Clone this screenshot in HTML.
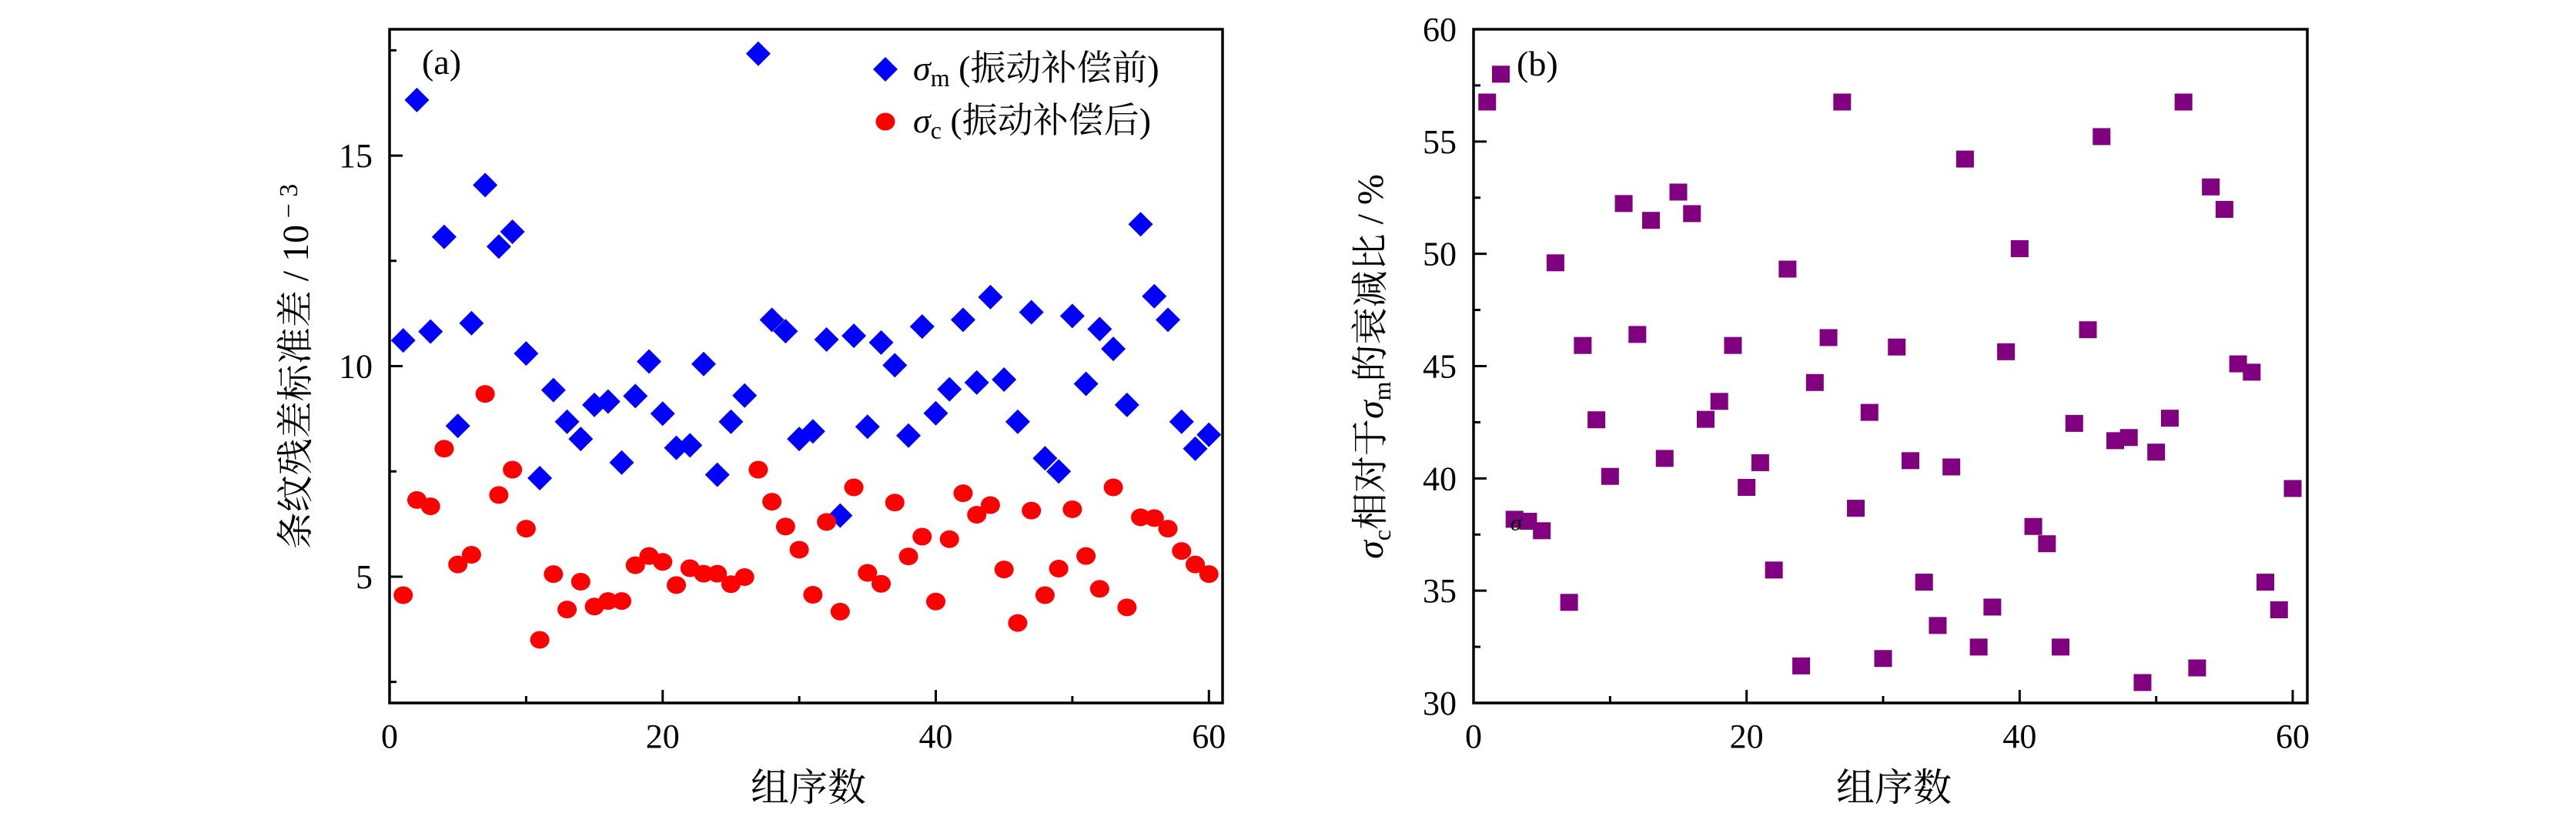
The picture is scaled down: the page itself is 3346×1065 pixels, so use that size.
<!DOCTYPE html>
<html><head><meta charset="utf-8"><style>
html,body{margin:0;padding:0;background:#fff;}
svg{display:block;}
text{font-family:"Liberation Serif","Noto Serif CJK SC","Noto Sans CJK SC",serif;fill:#000;}
</style></head><body>
<svg id="chart" width="3346" height="1065" viewBox="0 0 3346 1065" xmlns="http://www.w3.org/2000/svg">
<g id="pa"></g>
<g id="pb"></g>
</svg>
<script>
const groupIdx = Array.from({length:60},(_,i)=>i+1);
const sigmaM = [10.61,16.32,10.82,13.07,8.58,11.02,14.30,12.84,13.19,10.30,7.34,9.43,8.68,8.27,9.08,9.16,7.71,9.29,10.11,8.87,8.06,8.12,10.05,7.42,8.68,9.30,17.42,11.10,10.83,8.27,8.45,10.63,6.45,10.72,8.56,10.56,10.02,8.35,10.94,8.88,9.45,11.10,9.61,11.64,9.68,8.68,11.28,7.81,7.50,11.19,9.58,10.88,10.41,9.08,13.37,11.66,11.10,8.68,8.04,8.37];
const sigmaC = [4.56,6.82,6.67,8.04,5.29,5.52,9.34,6.94,7.54,6.14,3.50,5.06,4.22,4.88,4.29,4.42,4.42,5.27,5.49,5.35,4.80,5.20,5.07,5.07,4.82,4.99,7.54,6.78,6.19,5.64,4.57,6.30,4.17,7.12,5.09,4.83,6.76,5.48,5.95,4.41,5.89,6.98,6.47,6.70,5.17,3.90,6.57,4.56,5.19,6.60,5.49,4.71,7.12,4.27,6.41,6.39,6.14,5.61,5.29,5.06];
const ratio = [56.76,58.0,38.18,38.09,37.67,49.60,34.48,45.92,42.61,40.09,52.24,46.41,51.49,40.89,52.75,51.79,42.63,43.43,45.92,39.6,40.7,35.92,49.32,31.65,44.27,46.27,56.76,38.67,42.94,31.98,45.85,40.79,35.38,33.45,40.51,54.22,32.49,34.27,45.64,50.23,37.86,37.09,32.49,42.45,46.62,55.22,41.68,41.82,30.91,41.17,42.68,56.76,31.56,52.98,51.98,45.10,44.73,35.38,34.15,39.55];
const xTicks = [0,20,40,60];
const xMinor = [10,30,50];
const yTicksA = [5,10,15];
const yMinorA = [2.5,7.5,12.5,17.5];
const yTicksB = [30,35,40,45,50,55,60];
const yMinorB = [32.5,37.5,42.5,47.5,52.5,57.5];

const NS="http://www.w3.org/2000/svg";
function mk(parent,tag,attrs,txt){const e=document.createElementNS(NS,tag);for(const k in attrs)e.setAttribute(k,attrs[k]);if(txt!==undefined)e.textContent=txt;parent.appendChild(e);return e;}
function scale(d0,d1,r0,r1){return v=>r0+(v-d0)/(d1-d0)*(r1-r0);}

// Panel A
const A={L:506,R:1588,T:38,B:913};
const xa=scale(0,61,A.L,A.R), ya=scale(2,18,A.B,A.T);
const pa=document.getElementById('pa');
for(let i=0;i<groupIdx.length;i++){
  const cx=xa(groupIdx[i]), cy=ya(sigmaM[i]), r=16;
  const p=mk(pa,'polygon',{points:`${cx},${cy-r} ${cx+r},${cy} ${cx},${cy+r} ${cx-r},${cy}`,fill:'#0000ff'});
  
  
}
for(let i=0;i<groupIdx.length;i++){
  const c=mk(pa,'ellipse',{cx:xa(groupIdx[i]),cy:ya(sigmaC[i]),rx:12.5,ry:11.5,fill:'#ff0000'});
  
  
}
drawAxes(pa,A,xa,ya,yTicksA,yMinorA);
const lg=mk(pa,'g',{});


mk(lg,'polygon',{points:'1150,74 1166,90 1150,106 1134,90',fill:'#0000ff'});
mk(lg,'ellipse',{cx:1150,cy:158,rx:12.5,ry:11.5,fill:'#ff0000'});
const t1=mk(lg,'text',{x:1186,y:104,'font-size':46});
t1.innerHTML='<tspan font-style="italic">σ</tspan><tspan font-size="32" dy="8">m</tspan><tspan dy="-8"> (振动补偿前)</tspan>';
const t2=mk(lg,'text',{x:1186,y:172,'font-size':46});
t2.innerHTML='<tspan font-style="italic">σ</tspan><tspan font-size="32" dy="8">c</tspan><tspan dy="-8"> (振动补偿后)</tspan>';
const la=mk(pa,'text',{x:548,y:96,'font-size':46},'(a)');


const xta=mk(pa,'text',{x:1050,y:1040,'font-size':50,'text-anchor':'middle'},'组序数');


const yta=mk(pa,'text',{x:0,y:0,'font-size':48,'text-anchor':'middle',transform:'translate(400,476) rotate(-90)'});
yta.innerHTML='条纹残差标准差 / 10<tspan font-size="34" dy="-14"> − 3</tspan>';



// Panel B
const B={L:1914,R:2997,T:38,B:913};
const xb=scale(0,61.07,B.L,B.R), yb=scale(30,60,B.B,B.T);
const pb=document.getElementById('pb');
for(let i=0;i<groupIdx.length;i++){
  const s=mk(pb,'rect',{x:xb(groupIdx[i])-11.5,y:yb(ratio[i])-11,width:23,height:22,fill:'#800080'});
  
  
}
mk(pb,'text',{x:xb(2.7),y:yb(37.7),'font-size':30,'font-style':'italic'},'σ');
drawAxes(pb,B,xb,yb,yTicksB,yMinorB);
const lb=mk(pb,'text',{x:1970,y:98,'font-size':46},'(b)');


const xtb=mk(pb,'text',{x:2460,y:1040,'font-size':50,'text-anchor':'middle'},'组序数');


const ytb=mk(pb,'text',{x:0,y:0,'font-size':48,'text-anchor':'middle',transform:'translate(1796,476) rotate(-90)'});
ytb.innerHTML='<tspan font-style="italic">σ</tspan><tspan font-size="32" dy="10">c</tspan><tspan dy="-10">相对于</tspan><tspan font-style="italic">σ</tspan><tspan font-size="32" dy="10">m</tspan><tspan dy="-10">的衰减比 / %</tspan>';



function drawAxes(g,F,xs,ys,yT,yM){
  const fr=mk(g,'rect',{x:F.L,y:F.T,width:F.R-F.L,height:F.B-F.T,fill:'none',stroke:'#000','stroke-width':3.5});
  
  
  xTicks.forEach(v=>{
    mk(g,'line',{x1:xs(v),x2:xs(v),y1:F.B,y2:F.B-17,stroke:'#000','stroke-width':3});
    const t=mk(g,'text',{x:xs(v),y:F.B+58,'font-size':44,'text-anchor':'middle'},String(v));
    
    
  });
  xMinor.forEach(v=>mk(g,'line',{x1:xs(v),x2:xs(v),y1:F.B,y2:F.B-9,stroke:'#000','stroke-width':3}));
  yT.forEach(v=>{
    mk(g,'line',{x1:F.L,x2:F.L+17,y1:ys(v),y2:ys(v),stroke:'#000','stroke-width':3});
    const t=mk(g,'text',{x:F.L-22,y:ys(v)+15,'font-size':44,'text-anchor':'end'},String(v));
    
    
  });
  yM.forEach(v=>mk(g,'line',{x1:F.L,x2:F.L+9,y1:ys(v),y2:ys(v),stroke:'#000','stroke-width':3}));
}
</script>
</body></html>
